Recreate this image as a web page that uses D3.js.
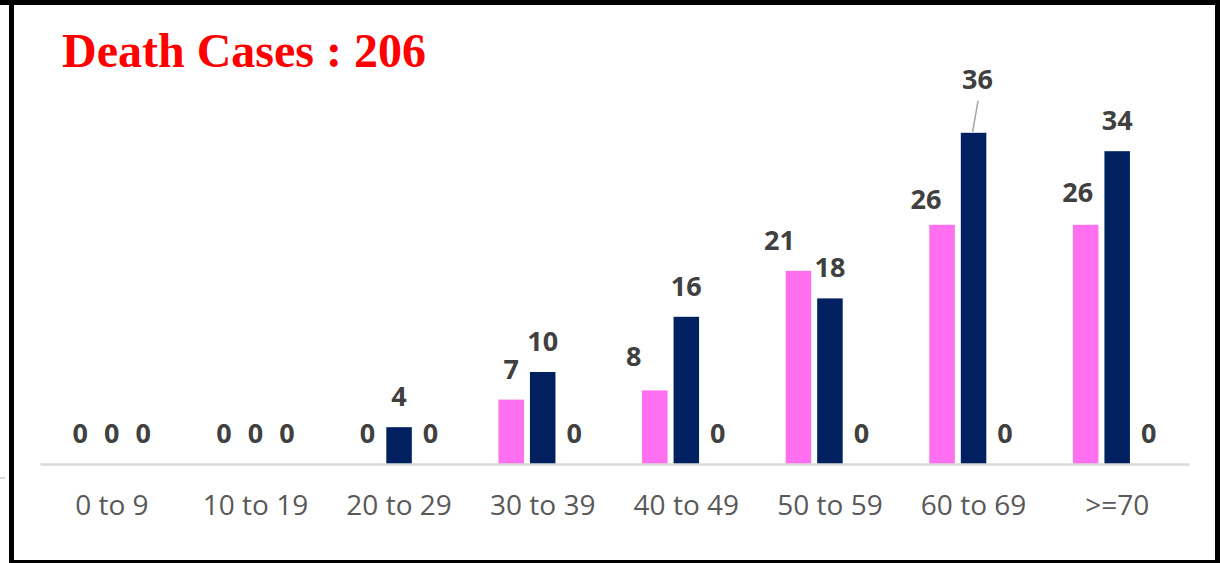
<!DOCTYPE html>
<html lang="en">
<head>
  <meta charset="UTF-8">
  <title>Death Cases by Age Group</title>
  <style>
    html, body { margin: 0; padding: 0; background: #fff; }
    svg { display: block; }
    .cat-axis text { font-family: "Open Sans", sans-serif; font-size: 28px; fill: #595959; }
    .cat-axis .domain { stroke: #d9d9d9; stroke-width: 2.5px; }
    .val-label { font-family: "Open Sans", sans-serif; font-size: 27px; font-weight: bold; fill: #404040; text-anchor: middle; }
    .title { font-family: "Liberation Serif", "Times New Roman", serif; font-size: 48px; font-weight: bold; fill: #ff0000; }
  </style>
</head>
<body>
  <div id="chart"></div>

  <script src="https://d3js.org/d3.v7.min.js"></script>
  <script>
    // Data
    const ageGroups = ["0 to 9", "10 to 19", "20 to 29", "30 to 39", "40 to 49", "50 to 59", "60 to 69", ">=70"];
    const seriesNames = ["Female", "Male", "Unknown"];
    const female = [0, 0, 0, 7, 8, 21, 26, 26];
    const male = [0, 0, 4, 10, 16, 18, 36, 34];
    const unknown = [0, 0, 0, 0, 0, 0, 0, 0];
    const seriesColors = ["#ff6ff0", "#002060", "#a5a5a5"];
    const totalDeaths = 206;

    // label nudges (dx, dy) where the labels were moved by hand in the original
    const labelNudge = {
      "0-4": [-21, -3],
      "0-5": [-19, 0],
      "0-6": [-16, 5],
      "0-7": [-8, -2],
      "1-6": [4, -23]
    };

    const series = [female, male, unknown];

    // Dimensions
    const width = 1223;
    const height = 563;
    const plot = { left: 40, right: 1189, baseline: 464 };

    const svg = d3.select("#chart")
                  .append("svg")
                  .attr("width", width)
                  .attr("height", height);

    // Frame
    svg.append("rect").attr("x", 0).attr("y", 0).attr("width", 1220).attr("height", 5).attr("fill", "#000");
    svg.append("rect").attr("x", 9).attr("y", 0).attr("width", 5).attr("height", height).attr("fill", "#000");
    svg.append("rect").attr("x", 1215).attr("y", 0).attr("width", 5).attr("height", height).attr("fill", "#000");
    svg.append("rect").attr("x", 9).attr("y", 560).attr("width", 1211).attr("height", 3).attr("fill", "#000");
    svg.append("rect").attr("x", 0).attr("y", 477).attr("width", 5).attr("height", 2).attr("fill", "#d9d9d9");

    // Scales
    const x0 = d3.scaleBand()
                 .domain(ageGroups)
                 .range([plot.left, plot.right])
                 .padding(0);

    const x1 = d3.scaleBand()
                 .domain(d3.range(seriesNames.length))
                 .range([-47.25, 47.25])
                 .paddingInner(0.19)
                 .paddingOuter(0.095);

    const y = d3.scaleLinear()
                .domain([0, 40])
                .range([plot.baseline, plot.baseline - 368]);

    // Flatten for drawing
    const cells = [];
    series.forEach((vals, s) => {
      vals.forEach((v, i) => cells.push({ s, i, v, cat: ageGroups[i] }));
    });

    const cx = d => x0(d.cat) + x0.bandwidth() / 2 + x1(d.s) + x1.bandwidth() / 2;

    // Bars
    svg.selectAll(".bar")
       .data(cells.filter(d => d.v > 0))
       .enter()
       .append("rect")
       .attr("class", "bar")
       .attr("x", d => cx(d) - x1.bandwidth() / 2)
       .attr("y", d => y(d.v))
       .attr("width", x1.bandwidth())
       .attr("height", d => y(0) - y(d.v))
       .attr("fill", d => seriesColors[d.s]);

    // X axis
    svg.append("g")
       .attr("class", "cat-axis")
       .attr("transform", `translate(0, ${plot.baseline})`)
       .call(d3.axisBottom(x0).tickSize(0).tickSizeOuter(0).tickPadding(31));

    // Value labels
    const nudge = d => labelNudge[`${d.s}-${d.i}`] || [0, 0];

    svg.selectAll(".val-label")
       .data(cells)
       .enter()
       .append("text")
       .attr("class", "val-label")
       .attr("x", d => cx(d) + nudge(d)[0])
       .attr("y", d => y(d.v) - 21 + nudge(d)[1])
       .text(d => d.v);

    // leader line for the moved label
    const moved = cells.find(d => d.s === 1 && d.i === 6);
    svg.append("line")
       .attr("x1", cx(moved) + 4.5)
       .attr("y1", y(moved.v) - 32)
       .attr("x2", cx(moved) - 1)
       .attr("y2", y(moved.v) - 1)
       .attr("stroke", "#a6a6a6")
       .attr("stroke-width", 1.5);

    // Title
    svg.append("text")
       .attr("class", "title")
       .attr("x", 62)
       .attr("y", 67)
       .text(`Death Cases : ${totalDeaths}`);
  </script>
</body>
</html>
